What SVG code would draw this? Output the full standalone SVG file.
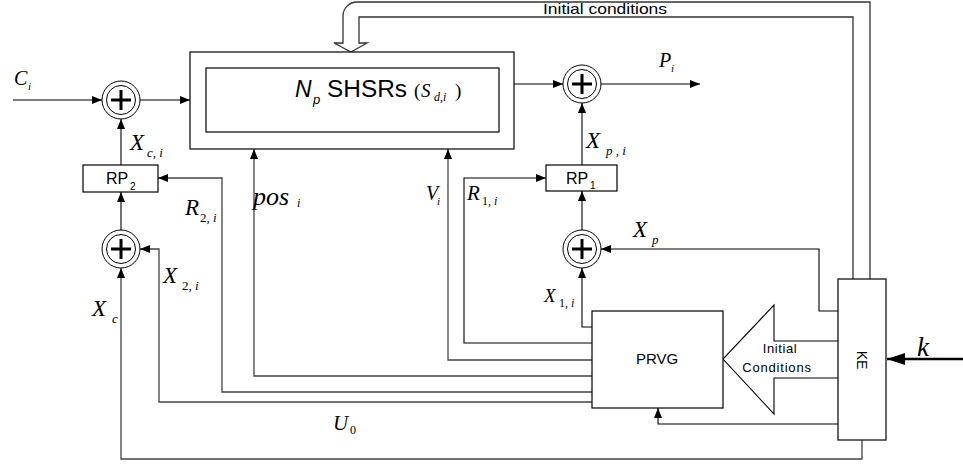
<svg xmlns="http://www.w3.org/2000/svg" width="963" height="464" viewBox="0 0 963 464">
<defs>
<marker id="ah" viewBox="0 0 10 8" refX="10" refY="4" markerWidth="10" markerHeight="8" markerUnits="userSpaceOnUse" orient="auto">
<path d="M0,0 L10,4 L0,8 Z" fill="#000"/>
</marker>
<marker id="ahk" viewBox="0 0 18 12" refX="18" refY="6" markerWidth="18" markerHeight="12" markerUnits="userSpaceOnUse" orient="auto">
<path d="M0,0 L18,6 L0,12 Z" fill="#000"/>
</marker>
<g id="sum">
<circle r="19" fill="#fff" stroke="#000" stroke-width="1"/>
<circle r="14.5" fill="none" stroke="#000" stroke-width="1"/>
<path d="M-10,0 H10 M0,-10 V10" stroke="#000" stroke-width="3"/>
</g>
</defs>
<style>
.box{fill:#fff;stroke:#000;stroke-width:1.2}
.ln{fill:none;stroke:#000;stroke-width:1.1}
.gl{fill:none;stroke:#444;stroke-width:1.3}
.sans{font-family:"Liberation Sans",Arial,sans-serif;fill:#000}
.m{font-family:"Liberation Serif","Times New Roman",serif;font-style:italic;fill:#000}
.up{font-style:normal}
</style>
<rect width="963" height="464" fill="#fff"/>

<g id="connectors">
<line class="ln" x1="13" y1="100" x2="102" y2="100" marker-end="url(#ah)"/>
<line class="ln" x1="140" y1="100" x2="190" y2="100" marker-end="url(#ah)"/>
<line class="ln" x1="121" y1="165" x2="121" y2="119" marker-end="url(#ah)"/>
<line class="ln" x1="121" y1="230" x2="121" y2="192" marker-end="url(#ah)"/>
<path class="gl" d="M862,440 V459 H121 V268" marker-end="url(#ah)"/>
<path class="gl" d="M592,402 H159 V249 H140" marker-end="url(#ah)"/>
<path class="gl" d="M592,392 H222 V178 H158" marker-end="url(#ah)"/>
<path class="gl" d="M592,376 H254 V149" marker-end="url(#ah)"/>
<path class="gl" d="M592,360 H448 V149" marker-end="url(#ah)"/>
<path class="ln" d="M592,343 H464 V178 H546" marker-end="url(#ah)"/>
<path class="ln" d="M592,327 H582 V268" marker-end="url(#ah)"/>
<line class="ln" x1="582" y1="230" x2="582" y2="191" marker-end="url(#ah)"/>
<line class="ln" x1="582" y1="165" x2="582" y2="103" marker-end="url(#ah)"/>
<line class="ln" x1="514" y1="84" x2="563" y2="84" marker-end="url(#ah)"/>
<line class="ln" x1="601" y1="84" x2="700" y2="84" marker-end="url(#ah)"/>
<path class="ln" d="M838,311 H819 V249 H601" marker-end="url(#ah)"/>
<path class="ln" d="M838,424 H658 V408" marker-end="url(#ah)"/>
<line x1="963" y1="359" x2="887" y2="359" stroke="#000" stroke-width="2.6" marker-end="url(#ahk)"/>
<path id="ic-big" d="M838,341 H774 V305 L723,359 L774,414 V378 H838" fill="#fff" stroke="#000" stroke-width="1.1"/>
<path id="ic-top" d="M853,279 V17 H359 V43 H367 L351,52 L334,43 H343 V16 A14,14 0 0 1 357,2 H870 V279" fill="none" stroke="#333" stroke-width="1.3"/>
</g>

<g id="shsr">
<rect class="box" x="190" y="52" width="324" height="97"/>
<rect class="box" x="206" y="68" width="293" height="64"/>
<text class="sans" x="295" y="97" font-size="23" font-style="italic">N</text>
<text class="sans" x="313" y="104" font-size="13" font-style="italic">p</text>
<text class="sans" x="327" y="97" font-size="23" textLength="80" lengthAdjust="spacingAndGlyphs">SHSRs</text>
<text class="m up" x="414" y="97" font-size="19">(</text>
<text class="m" x="421" y="97" font-size="19">S</text>
<text class="m" x="434" y="101" font-size="12">d,i</text>
<text class="m up" x="455" y="97" font-size="19">)</text>
</g>

<g id="sum1"><use href="#sum" x="121" y="100"/></g>
<g id="sum2"><use href="#sum" x="121" y="249"/></g>
<g id="sum3"><use href="#sum" x="582" y="249"/></g>
<g id="sum4"><use href="#sum" x="582" y="84"/></g>

<g id="rp2">
<rect class="box" x="83" y="165" width="75" height="27"/>
<text class="sans" x="106" y="184" font-size="16">RP</text>
<text class="sans" x="130" y="190" font-size="10">2</text>
</g>
<g id="rp1">
<rect class="box" x="546" y="165" width="71" height="26"/>
<text class="sans" x="566" y="184" font-size="16">RP</text>
<text class="sans" x="590" y="189" font-size="10">1</text>
</g>

<g id="prvg">
<rect class="box" x="592" y="311" width="131" height="97"/>
<text class="sans" x="657" y="364" font-size="15" text-anchor="middle">PRVG</text>
</g>

<g id="ke">
<rect class="box" x="838" y="279" width="48" height="161"/>
<text class="sans" font-size="14" text-anchor="middle" transform="translate(857,360) rotate(90)">KE</text>
</g>

<g id="labels">
<text class="sans" x="543" y="14" font-size="15" textLength="124" lengthAdjust="spacingAndGlyphs">Initial conditions</text>
<text class="sans" x="780" y="353" font-size="13" text-anchor="middle" letter-spacing="0.6">Initial</text>
<text class="sans" x="777" y="372" font-size="13" text-anchor="middle" letter-spacing="0.8">Conditions</text>
<text class="m" x="14" y="85" font-size="20">C</text>
<text class="m" x="28" y="90" font-size="11">i</text>
<text class="m" x="130" y="150" font-size="23">X</text>
<text class="m" x="147" y="157" font-size="13">c, i</text>
<text class="m" x="185" y="215" font-size="23">R</text>
<text class="m" x="200" y="222" font-size="13"><tspan class="up">2</tspan>, i</text>
<text class="m" x="253" y="205" font-size="26">pos</text>
<text class="m" x="297" y="207" font-size="12">i</text>
<text class="m" x="163" y="283" font-size="23">X</text>
<text class="m" x="182" y="290" font-size="13"><tspan class="up">2</tspan>, i</text>
<text class="m" x="92" y="316" font-size="23">X</text>
<text class="m" x="112" y="323" font-size="13">c</text>
<text class="m" x="426" y="200" font-size="20">V</text>
<text class="m" x="437" y="205" font-size="11">i</text>
<text class="m" x="467" y="200" font-size="21">R</text>
<text class="m" x="482" y="205" font-size="12"><tspan class="up">1</tspan>, i</text>
<text class="m" x="586" y="148" font-size="23">X</text>
<text class="m" x="606" y="155" font-size="13">p , i</text>
<text class="m" x="633" y="237" font-size="23">X</text>
<text class="m" x="652" y="244" font-size="13">p</text>
<text class="m" x="544" y="302" font-size="19">X</text>
<text class="m" x="559" y="307" font-size="12"><tspan class="up">1</tspan>, i</text>
<text class="m" x="333" y="430" font-size="21">U</text>
<text class="m up" x="350" y="434" font-size="12">0</text>
<text class="m" x="659" y="67" font-size="20">P</text>
<text class="m" x="671" y="72" font-size="11">i</text>
<text class="m" x="917" y="356" font-size="27">k</text>
</g>
</svg>
